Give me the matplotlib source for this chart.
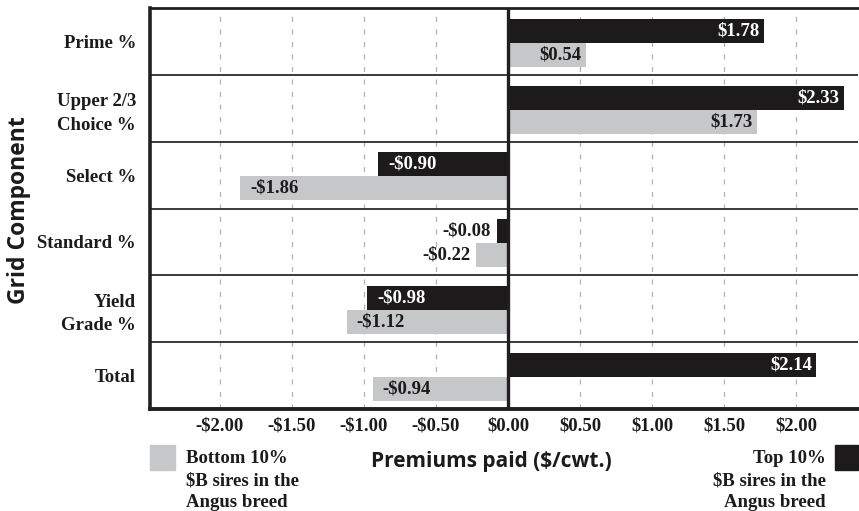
import matplotlib
matplotlib.use("Agg")
import matplotlib.pyplot as plt
import numpy as np

categories = ["Prime %", "Upper 2/3\nChoice %", "Select %", "Standard %", "Yield\nGrade %", "Total"]
top10 = [1.78, 2.33, -0.90, -0.08, -0.98, 2.14]
bottom10 = [0.54, 1.73, -1.86, -0.22, -1.12, -0.94]
xticks = [-2.0, -1.5, -1.0, -0.5, 0.0, 0.5, 1.0, 1.5, 2.0]
xticklabels = ["-$2.00", "-$1.50", "-$1.00", "-$0.50", "$0.00", "$0.50", "$1.00", "$1.50", "$2.00"]

BLACK = "#1c1a1b"
GRAY = "#c6c7c8"
SERIF = ["Liberation Serif", "DejaVu Serif"]
SANS = ["Open Sans", "DejaVu Sans"]
FS = 13.5

fig = plt.figure(figsize=(8.59, 5.11), dpi=100)
ax = fig.add_axes([150/859, 1-409/511, 708/859, 401/511])

y = np.arange(len(categories))
h = 0.36
yb = y - 0.16
yg = y + 0.20
ax.barh(yb, top10, height=h, color=BLACK, zorder=3)
ax.barh(yg, bottom10, height=h, color=GRAY, zorder=3)

ax.set_xlim(-2.486, 2.43)
ax.set_ylim(len(categories) - 0.5, -0.5)

for xv in xticks:
    if xv != 0:
        ax.axvline(xv, color="#b0b0b0", lw=0.9, ls=(0, (4, 6)), zorder=1)
ax.axvline(0, color="#231f20", lw=2.4, zorder=4)
for b in np.arange(0.5, len(categories) - 0.5, 1):
    ax.axhline(b, color="#3a3a3a", lw=1.4, zorder=2)

def fmt(v):
    return ("-$%.2f" % abs(v)) if v < 0 else ("$%.2f" % v)

def label(vals, ys, txt_color):
    for v, yy in zip(vals, ys):
        w = abs(v)
        if w < 0.4:
            ax.text(v - 0.04 if v < 0 else v + 0.04, yy, fmt(v), ha="right" if v < 0 else "left",
                    va="center", color=BLACK, fontsize=FS, fontweight="bold", family=SERIF, zorder=5)
        elif v > 0:
            ax.text(v - 0.03, yy, fmt(v), ha="right", va="center", color=txt_color,
                    fontsize=FS, fontweight="bold", family=SERIF, zorder=5)
        else:
            ax.text(v + 0.07, yy, fmt(v), ha="left", va="center", color=txt_color,
                    fontsize=FS, fontweight="bold", family=SERIF, zorder=5)

label(top10, yb, "white")
label(bottom10, yg, BLACK)

ax.set_yticks(y)
ax.set_yticklabels(categories, fontsize=FS, fontweight="bold", family=SERIF, color=BLACK,
                   linespacing=1.5)
ax.set_xticks(xticks)
ax.set_xticklabels(xticklabels, fontsize=FS, fontweight="bold", family=SERIF, color=BLACK)
ax.tick_params(axis="both", length=0)
ax.tick_params(axis="y", pad=10)
ax.tick_params(axis="x", pad=6)

ax.spines["right"].set_visible(False)
ax.spines["left"].set_linewidth(2.6)
ax.spines["bottom"].set_linewidth(2.8)
ax.spines["top"].set_linewidth(2.0)
for s in ["left", "bottom", "top"]:
    ax.spines[s].set_color("#231f20")

fig.text(19/859, 1-210/511, "Grid Component", rotation=90, ha="center", va="center",
         fontsize=16.5, fontweight="bold", family=SANS, color=BLACK)
fig.text(491/859, 1-461/511, "Premiums paid ($/cwt.)", ha="center", va="center",
         fontsize=15, fontweight="bold", family=SANS, color=BLACK)

# legend patches
fig.patches.append(matplotlib.patches.Rectangle((150/859, 1-470/511), 25/859, 25/511,
                   transform=fig.transFigure, color=GRAY))
fig.patches.append(matplotlib.patches.Rectangle((835/859, 1-470/511), 23/859, 25/511,
                   transform=fig.transFigure, color=BLACK))
fig.text(186/859, 1-450/511, "Bottom 10%\n$B sires in the\nAngus breed", ha="left", va="top",
         fontsize=FS, fontweight="bold", family=SERIF, color=BLACK, linespacing=1.4)
fig.text(826/859, 1-450/511, "Top 10%\n$B sires in the\nAngus breed", ha="right", va="top",
         fontsize=FS, fontweight="bold", family=SERIF, color=BLACK, linespacing=1.4,
         multialignment="right")

fig.savefig("out.png", dpi=100)
